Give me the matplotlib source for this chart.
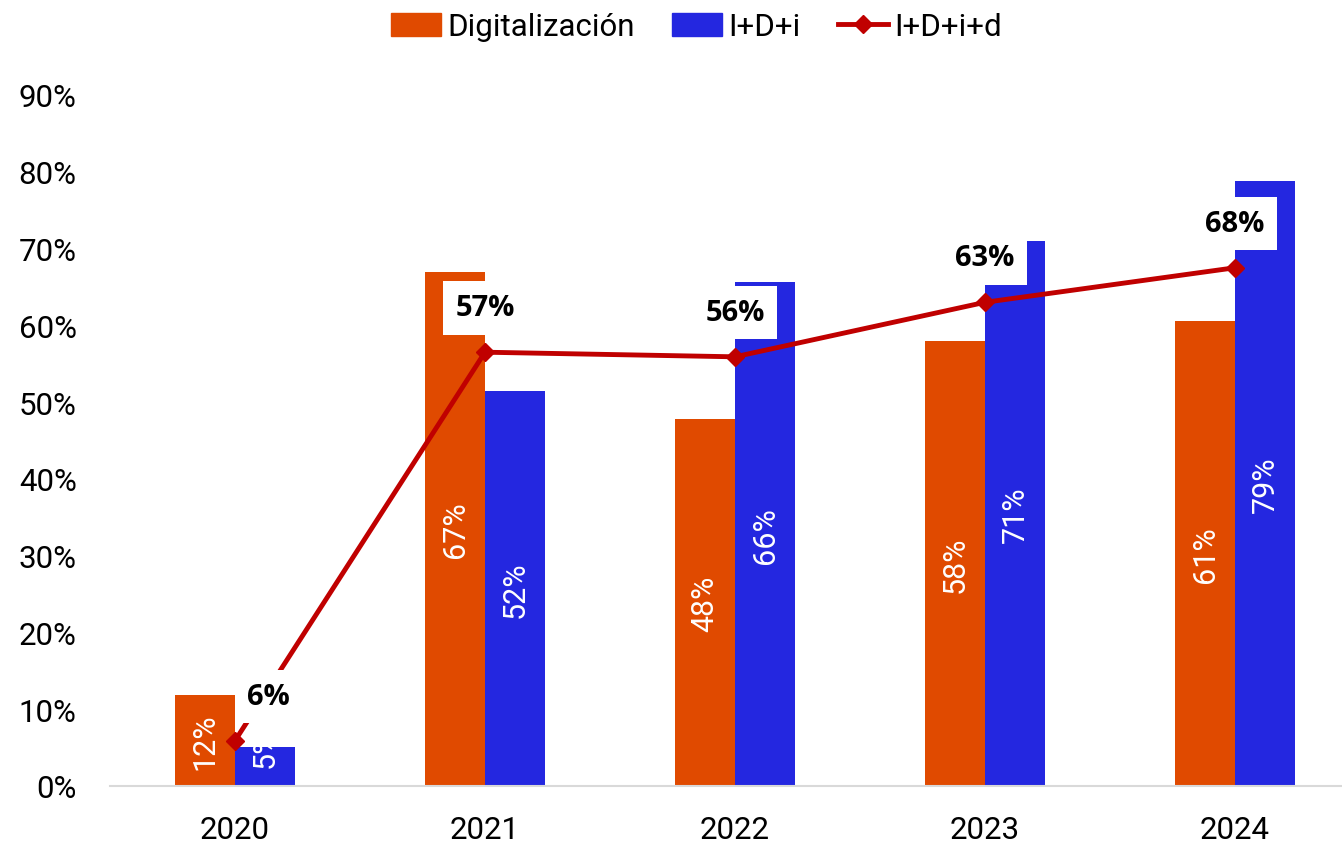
import matplotlib
matplotlib.use("Agg")
import matplotlib.pyplot as plt
from matplotlib.patches import Patch
from matplotlib.lines import Line2D
import numpy as np

years = ['2020', '2021', '2022', '2023', '2024']
# bar heights, labels as printed
digitalizacion = [11.8, 67.0, 47.8, 57.9, 60.5]
digitalizacion_lbl = ['12%', '67%', '48%', '58%', '61%']
idi = [5.1, 51.4, 65.6, 71.0, 78.8]
idi_lbl = ['5%', '52%', '66%', '71%', '79%']
idid = [5.9, 56.5, 55.9, 63.0, 67.5]
idid_lbl = ['6%', '57%', '56%', '63%', '68%']

c_orange = '#E04A00'
c_blue = '#2427E0'
c_red = '#C00000'

plt.rcParams['font.family'] = ['Roboto', 'DejaVu Sans']

fig = plt.figure(figsize=(13.42, 8.45), dpi=100)
ax = fig.add_axes((110 / 1342, 1 - 787 / 845, 1 - 110 / 1342, (787 - 96) / 845))

x = np.arange(len(years))
w = 0.24
b1 = ax.bar(x - w / 2, digitalizacion, w, color=c_orange, zorder=2)
b2 = ax.bar(x + w / 2, idi, w, color=c_blue, zorder=2)

# white value labels inside bars (tiny bars: label pushed up to the top)
for bars, vals, lbls in ((b1, digitalizacion, digitalizacion_lbl), (b2, idi, idi_lbl)):
    for r, v, s in zip(bars, vals, lbls):
        yy = v / 2 if v > 10 else v
        ax.text(r.get_x() + r.get_width() / 2, yy, s, rotation=90,
                ha='center', va='center', color='white', fontsize=22, zorder=3)

ax.plot(x, idid, color=c_red, lw=3.5, marker='D', markersize=9, zorder=4)

# bold labels for the line
for i, s in enumerate(idid_lbl):
    dx = 24 if i == 0 else 0
    ax.annotate(s, (x[i], idid[i]), xytext=(dx, 32), textcoords='offset points',
                ha='center', va='center', fontsize=21, fontweight='bold',
                family=['Open Sans', 'DejaVu Sans'], color='black', zorder=5,
                bbox=dict(boxstyle='square,pad=0.42', fc='white', ec='none'))

ax.set_xlim(-0.5, 4.428)
ax.set_ylim(0, 90)
ax.set_yticks(range(0, 91, 10))
ax.set_yticklabels([f'{t}%' for t in range(0, 91, 10)])
ax.set_xticks(x)
ax.set_xticklabels(years)
ax.tick_params(axis='y', length=0, pad=24, labelsize=22.5)
ax.tick_params(axis='x', length=0, pad=21, labelsize=22.5)
for s in ('top', 'right', 'left'):
    ax.spines[s].set_visible(False)
ax.spines['bottom'].set_color('#D9D9D9')
ax.spines['bottom'].set_linewidth(1.5)

handles = [Patch(color=c_orange), Patch(color=c_blue),
           Line2D([0], [0], color=c_red, lw=3.5, marker='D', markersize=9)]
fig.legend(handles, ['Digitalización', 'I+D+i', 'I+D+i+d'], loc='center',
           bbox_to_anchor=(0.519, 1 - 28 / 845), ncol=3, frameon=False, fontsize=22.5,
           handlelength=1.6, handleheight=0.75, handletextpad=0.2, columnspacing=1.2)

fig.savefig('out.png', dpi=100)
